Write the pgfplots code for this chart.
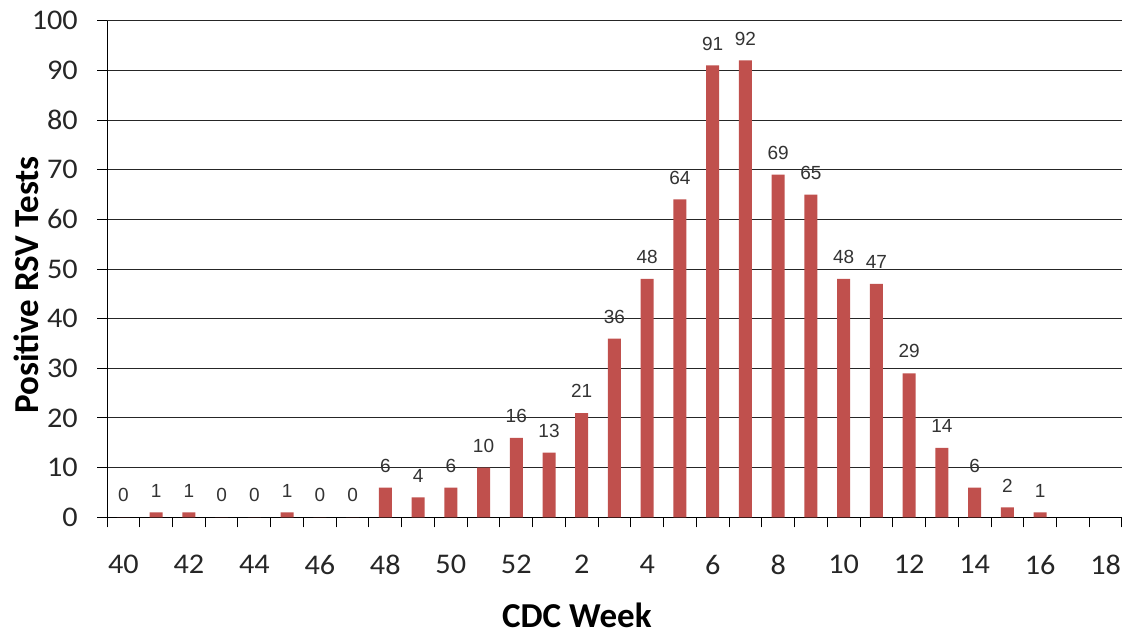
\documentclass[border=0pt]{standalone}
\usepackage{pgfplots}
\pgfplotsset{compat=1.18}
\usepackage{fontspec}
\setmainfont{Carlito}
\newfontfamily\arialf{Liberation Sans}
\definecolor{barred}{HTML}{C0504D}
\pgfplotstableread{
x y
0 0
1 1
2 1
3 0
4 0
5 1
6 0
7 0
8 6
9 4
10 6
11 10
12 16
13 13
14 21
15 36
16 48
17 64
18 91
19 92
20 69
21 65
22 48
23 47
24 29
25 14
26 6
27 2
28 1
}\rsv
\begin{document}
\begin{tikzpicture}
\useasboundingbox (0,0) rectangle (1123pt,635pt);
\begin{axis}[
  at={(107pt,117.7pt)}, anchor=south west,
  width=1015pt, height=496.6pt, scale only axis,
  xmin=-0.5, xmax=30.5, ymin=0, ymax=100,
  axis lines*=left,
  ybar, bar width=13pt,
  ytick={0,10,...,100},
  ymajorgrids, grid style={black!85, line width=1pt},
  xtick={-0.5,0.5,...,30.5}, xticklabels={},
  extra x ticks={0,2,...,30},
  extra x tick labels={40,42,44,46,48,50,52,2,4,6,8,10,12,14,16,18},
  extra x tick style={major tick length=0pt, grid=none},
  tick align=outside, major tick length=10pt,
  tick style={black, line width=1pt},
  axis line style={black, line width=1pt},
  /pgf/number format/assume math mode=true,
  tick label style={font=\fontsize{28.5}{30}\selectfont, text=black!85, xscale=1.06},
  xticklabel style={inner sep=0pt, anchor=north, yshift=-38pt},
  yticklabel style={inner sep=0pt, anchor=east, xshift=-18pt},
  nodes near coords,
  nodes near coords style={font=\arialf\fontsize{19}{20}\selectfont, inner sep=0pt, anchor=south, yshift=15pt, text=black!80},
  xlabel={\bfseries CDC Week},
  ylabel={\bfseries Positive RSV Tests},
  label style={font=\fontsize{35}{40}\selectfont, inner sep=0pt},
  xlabel style={at={(axis description cs:0.463,-0.197)}, anchor=center},
  ylabel style={at={(axis description cs:-0.0798,0.468)}, anchor=center},
]
\addplot[fill=barred, draw=none] table[x=x,y=y] {\rsv};
\end{axis}
\end{tikzpicture}
\end{document}
